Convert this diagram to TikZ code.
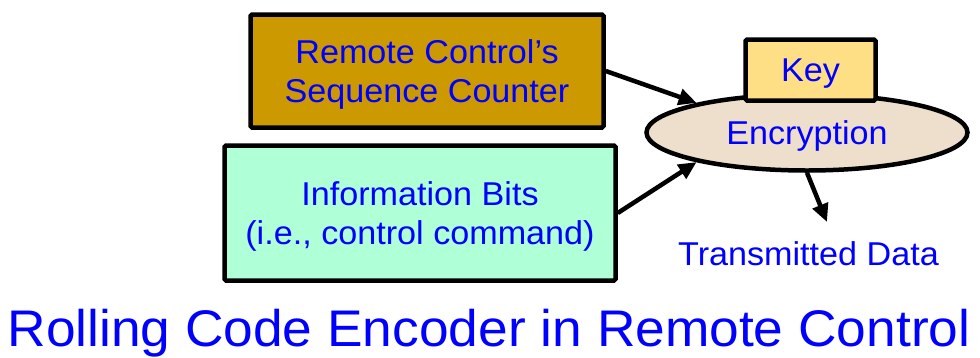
\documentclass[tikz,border=0pt]{standalone}
\usepackage{fontspec}
\setmainfont[FakeStretch=1.035]{Liberation Sans}
\usetikzlibrary{arrows.meta,shapes.geometric}

\definecolor{counterfill}{HTML}{CC9900}
\definecolor{infofill}{HTML}{AFFFD7}
\definecolor{encfill}{HTML}{EDDFCC}
\definecolor{keyfill}{HTML}{FFDF85}

\begin{document}
\begin{tikzpicture}[x=1pt,y=-1pt,
    blk/.style={draw,line width=4.5pt,rounded corners=1.5pt,align=center,
      text=blue,font=\fontsize{33}{39}\selectfont,text depth=0pt,inner sep=0pt},
    lbl/.style={text=blue,font=\fontsize{33}{39}\selectfont,text depth=0pt,inner sep=0pt},
    arr/.style={line width=4.5pt,-{Triangle[length=18pt,width=16pt]}}]
    \useasboundingbox (0,0) rectangle (980,357);
    \node[blk,fill=counterfill,minimum width=353pt,minimum height=113pt] at (427,71) (seq)
      {Remote Control's\\Sequence Counter};
    \node[blk,fill=infofill,minimum width=391pt,minimum height=135pt] at (420,213) (info)
      {Information Bits\\(i.e., control command)};
    \node[blk,ellipse,fill=encfill,minimum width=321pt,minimum height=76pt] at (807,132.5) (enc)
      {Encryption};
    \node[blk,fill=keyfill,minimum width=130pt,minimum height=61pt] at (810.5,70) (key) {Key};
    \node[lbl] at (808.5,253.5) (txd) {Transmitted Data};
    \coordinate (out) at (827,222);
    \node[lbl,font=\fontsize{51.5}{60}\selectfont] at (489,328) (title)
      {Rolling Code Encoder in Remote Control};
    \draw [arr] (seq.east) -- (enc.165);
    \draw [arr] (info.east) -- (enc.195);
    \draw [arr] (enc.south) -- (out);
  \end{tikzpicture}
\end{document}
